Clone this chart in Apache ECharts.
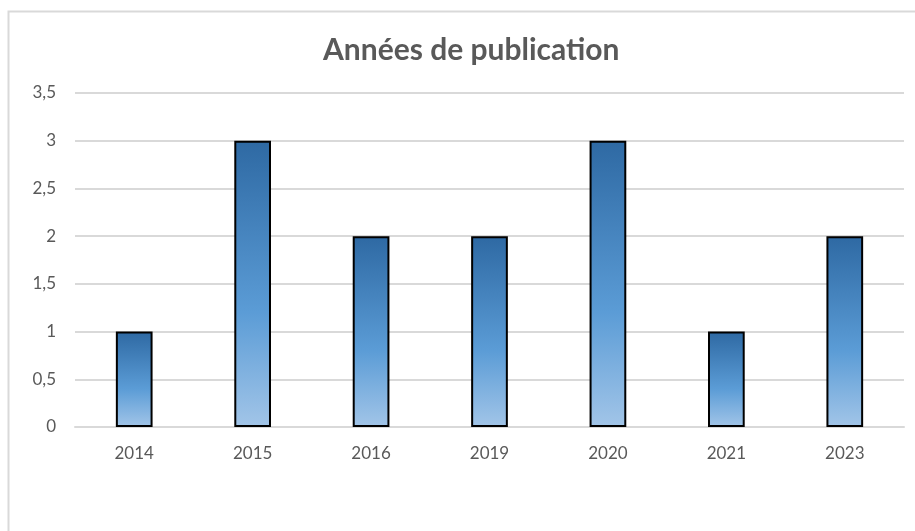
<!DOCTYPE html>
<html>
<head>
<meta charset="utf-8">
<script src="https://cdn.jsdelivr.net/npm/echarts@6/dist/echarts.min.js"></script>
<style>
  html, body { margin: 0; padding: 0; background: #fff; }
  #chart { width: 915px; height: 531px; }
</style>
</head>
<body>
<div id="chart"></div>
<script>
var years = ["2014", "2015", "2016", "2019", "2020", "2021", "2023"];
var counts = [1, 3, 2, 2, 3, 1, 2];

var chart = echarts.init(document.getElementById("chart"));

chart.setOption({
  animation: false,
  graphic: [
    {
      type: "rect",
      shape: { x: 8.5, y: 11.5, width: 940, height: 560 },
      style: { fill: "none", stroke: "#d9d9d9", lineWidth: 2 },
      silent: true
    }
  ],
  title: {
    text: "Années de publication",
    left: 318,
    top: 30,
    textStyle: {
      fontFamily: "Lato",
      fontWeight: "bold",
      fontSize: 30,
      color: "#595959"
    }
  },
  grid: {
    left: 75,
    right: 11,
    top: 93,
    bottom: 104
  },
  xAxis: {
    type: "category",
    data: years,
    axisLine: { lineStyle: { color: "#d9d9d9", width: 2 } },
    axisTick: { show: false },
    axisLabel: {
      color: "#595959",
      fontFamily: "Lato",
      fontSize: 17,
      margin: 18
    }
  },
  yAxis: {
    type: "value",
    min: 0,
    max: 3.5,
    interval: 0.5,
    axisLine: { show: false },
    axisTick: { show: false },
    splitLine: { lineStyle: { color: "#d9d9d9", width: 2 } },
    axisLabel: {
      color: "#595959",
      fontFamily: "Lato",
      fontSize: 17,
      margin: 19,
      formatter: function (v) {
        return String(v).replace(".", ",");
      }
    }
  },
  series: [
    {
      type: "bar",
      data: counts,
      barWidth: "31%",
      itemStyle: {
        borderColor: "#000",
        borderWidth: 2,
        color: new echarts.graphic.LinearGradient(0, 0, 0, 1, [
          { offset: 0, color: "#2e69a3" },
          { offset: 0.6, color: "#5b9cd6" },
          { offset: 1, color: "#a2c5e8" }
        ])
      }
    }
  ]
});
</script>
</body>
</html>
